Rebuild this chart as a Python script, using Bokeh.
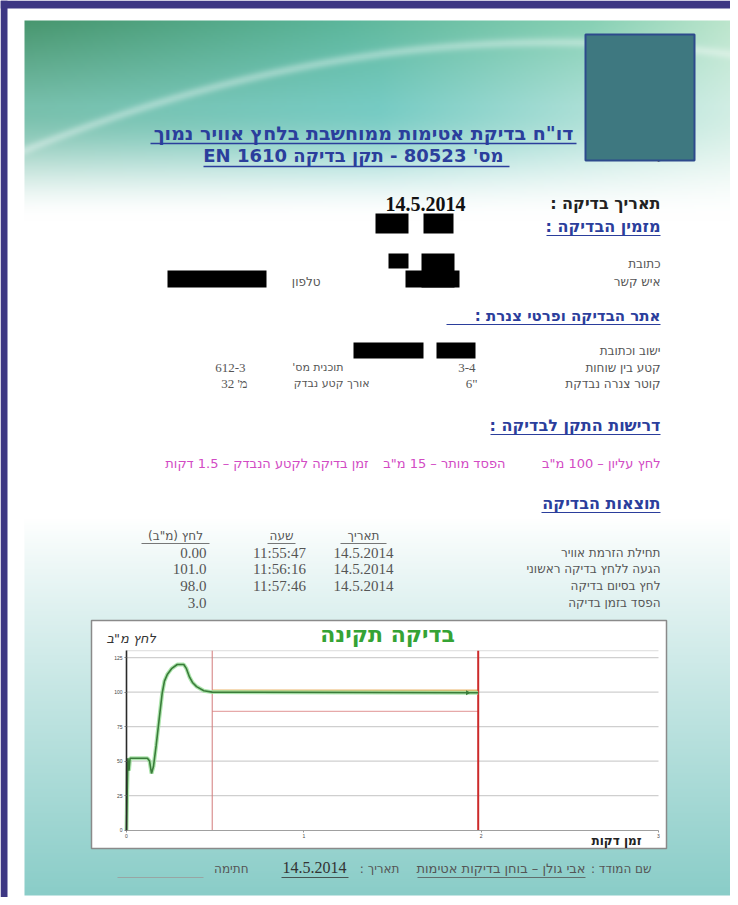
import numpy as np
from bokeh.plotting import figure
from bokeh.models import Range1d, LinearAxis, FixedTicker
from bokeh.core.properties import value
from bokeh.embed import file_html
from bokeh.resources import INLINE

# ---------------- data ----------------
TITLE_LINE1 = 'דו"ח בדיקת אטימות ממוחשבת בלחץ אוויר נמוך'
REPORT_NO = "80523"
STANDARD = "EN 1610"
TEST_DATE = "14.5.2014"
CERT_TEXT = "מס' תעודה : 80523"

CLIENT_LABELS = ["כתובת", "איש קשר"]
PHONE_LABEL = "טלפון"
PIPE_LABELS = ["ישוב וכתובת", "קטע בין שוחות", "קוטר צנרה נבדקת"]
PIPE_SEGMENT = "3-4"
PIPE_DIAMETER = '6"'
PLAN_LABEL = "תוכנית מס'"
PLAN_NO = "612-3"
LENGTH_LABEL = "אורך קטע נבדק"
SEGMENT_LENGTH_M = 32

MAX_PRESSURE_MBAR = 100
ALLOWED_LOSS_MBAR = 15
TEST_DURATION_MIN = 1.5

TABLE_HEADERS = ["תאריך", "שעה", 'לחץ (מ"ב)']
EVENT_NAMES = ["תחילת הזרמת אוויר", "הגעה ללחץ בדיקה ראשוני", "לחץ בסיום בדיקה", "הפסד בזמן בדיקה"]
EVENT_DATES = ["14.5.2014", "14.5.2014", "14.5.2014"]
EVENT_TIMES = ["11:55:47", "11:56:16", "11:57:46"]
EVENT_PRESSURES = ["0.00", "101.0", "98.0", "3.0"]

# pressure curve (minutes since air start, mbar)
CURVE_MIN = [0.000, 0.004, 0.008, 0.014, 0.020, 0.028, 0.118, 0.130, 0.141, 0.152,
             0.167, 0.183, 0.201, 0.214, 0.231, 0.254, 0.286, 0.323, 0.338, 0.355,
             0.372, 0.395, 0.436, 0.483, 1.983]
CURVE_MBAR = [0, 29, 52, 43, 52, 52, 52, 50, 41, 46,
              61, 79, 99, 108, 113, 117, 120, 120, 117, 111,
              107, 104, 101, 100, 99.5]
Y_TICKS = [0, 25, 50, 75, 100, 125]
X_TICKS = [0, 1, 2, 3]
Y_TOP = 130
CHART_TITLE = "בדיקה תקינה"
Y_TITLE = 'לחץ מ"ב'
X_TITLE = "זמן דקות"

SURVEYOR_LABEL = "שם המודד :"
SURVEYOR = "אבי גולן – בוחן בדיקות אטימות"
DATE_LABEL = "תאריך :"
SIGN_LABEL = "חתימה"

# ---------------- derived ----------------
def secs(s):
    h, m, x = map(int, s.split(":"))
    return h * 3600 + m * 60 + x

t_start = (secs(EVENT_TIMES[1]) - secs(EVENT_TIMES[0])) / 60.0
t_end = (secs(EVENT_TIMES[2]) - secs(EVENT_TIMES[0])) / 60.0
p_test = float(EVENT_PRESSURES[1])
p_limit = p_test - ALLOWED_LOSS_MBAR

# ---------------- layout ----------------
FIG_W, FIG_H = 730, 897
def Y(yi):
    return FIG_H - yi

T0_X, PX_MIN = 126.0, 177.33
P0_Y, PX_MBAR = 829.5, 1.379

p = figure(width=FIG_W, height=FIG_H, output_backend="svg", toolbar_location=None,
           x_range=Range1d(0, FIG_W), y_range=Range1d(0, FIG_H),
           x_axis_type=None, y_axis_type=None, min_border=0,
           background_fill_color="white", border_fill_color="white", outline_line_color=None)
p.extra_x_ranges = {"t": Range1d((0 - T0_X) / PX_MIN, (FIG_W - T0_X) / PX_MIN)}
p.extra_y_ranges = {"p": Range1d((P0_Y - FIG_H) / PX_MBAR, P0_Y / PX_MBAR)}

# purple frame strips (left and top)
PURPLE = "#3d3783"
p.quad(left=[0, 0], right=[7, FIG_W], top=[Y(0), Y(0)], bottom=[Y(FIG_H), Y(8)],
       fill_color=PURPLE, line_color=None)

# ---- page background gradient ----
GX0, GX1, GY0, GY1 = 24, 733, 20, 895
nw, nh = 355, 438
xs = GX0 + (np.arange(nw) + 0.5) * (GX1 - GX0) / nw
ys = GY1 - (np.arange(nh) + 0.5) * (GY1 - GY0) / nh
XX, YY = np.meshgrid(xs, ys)
uu = (XX - GX0) / (GX1 - GX0)

def stops(u, pos, cols):
    cols = np.array(cols, dtype=float)
    return np.stack([np.interp(u, pos, cols[:, k]) for k in range(3)], axis=-1)

ctop = stops(uu, [0, .45, .8, 1], [(72, 150, 110), (92, 182, 155), (135, 208, 180), (190, 230, 205)])
cmid = stops(uu, [0, .5, 1], [(120, 192, 172), (118, 203, 195), (210, 238, 228)])
white = np.full_like(ctop, 255.0)
s1 = np.clip((YY - 20) / 85.0, 0, 1)[..., None]
col = ctop * (1 - s1) + cmid * s1
s2 = np.clip((YY - 105) / 115.0, 0, 1)
s2 = (s2 * s2 * (3 - 2 * s2))[..., None]
col = col * (1 - s2) + white * s2
a_, b_, c_ = 3.838e-4, -0.42578, 160.0
arc = a_ * XX ** 2 + b_ * XX + c_
band = (0.33 * np.exp(-((YY - arc) / 5.0) ** 2) * (YY < 220))[..., None]
col = col + (255 - col) * band
sb = (np.clip((YY - 520) / 375.0, 0, 1) ** 0.9)[..., None]
col = col * (1 - sb) + np.array([138, 205, 200], dtype=float) * sb
img = np.empty((nh, nw), dtype=np.uint32)
view = img.view(dtype=np.uint8).reshape((nh, nw, 4))
view[..., :3] = np.clip(col, 0, 255).astype(np.uint8)
view[..., 3] = 255
p.image_rgba(image=[img], x=GX0, y=Y(GY1), dw=GX1 - GX0, dh=GY1 - GY0)

# ---- helpers ----
BLUE = "#2b3e9c"
GRAY = "#555555"
HEB = "DejaVu Sans"
NUM = "Liberation Serif"

def rtl(s):
    if any("\u0590" <= ch <= "\u05ff" for ch in s):
        return "\u202b" + s + "\u202c"
    return s

def txt(x, y, s, size=12, color=GRAY, align="right", style="normal", font=HEB):
    p.text(x=[x], y=[Y(y)], text=[rtl(s)], text_font=value(font), text_font_size=f"{size}px",
           text_color=color, text_align=align, text_baseline="middle", text_font_style=style)

def ul(x0, x1, y, color=BLUE, w=1.0):
    p.segment(x0=[x0], x1=[x1], y0=[Y(y)], y1=[Y(y)], line_color=color, line_width=w)

# ---- header ----
txt(363, 132, TITLE_LINE1, 19, BLUE, "center", "bold")
ul(150, 576, 143, BLUE, 1.3)
txt(356, 155, f"מס' {REPORT_NO}  - תקן בדיקה {STANDARD}", 18, BLUE, "center", "bold")
ul(203, 509, 166, BLUE, 1.3)
txt(692, 157, CERT_TEXT, 11, "#444")
p.quad(left=[585], right=[694], top=[Y(34)], bottom=[Y(160)], fill_color="#3e7880",
       line_color="#2d4a8c", line_width=2)

txt(660, 203, "תאריך בדיקה :", 16, "#222", "right", "bold")
txt(425, 203, TEST_DATE, 20, "#111", "center", "bold", NUM)
txt(660, 226, "מזמין הבדיקה :", 16, BLUE, "right", "bold")
ul(546, 660, 235)
txt(660, 263, CLIENT_LABELS[0], 12)
txt(660, 281, CLIENT_LABELS[1], 12)
txt(320, 281, PHONE_LABEL, 12)

RED_L = [375, 423, 388, 421, 405, 167, 353, 436]
RED_R = [408, 453, 408, 454, 459, 266, 423, 475]
RED_T = [213, 213, 253, 253, 270, 270, 342, 342]
RED_B = [233, 233, 268, 287, 287, 287, 358, 358]
p.quad(left=RED_L, right=RED_R, top=[Y(v) for v in RED_T], bottom=[Y(v) for v in RED_B],
       fill_color="black", line_color=None)

txt(660, 315, "אתר הבדיקה ופרטי צנרת :", 15, BLUE, "right", "bold")
ul(446, 660, 324)
for yy, lab in zip([350, 367, 383], PIPE_LABELS):
    txt(660, yy, lab, 12)
txt(475, 367, PIPE_SEGMENT, 13, GRAY, "right", "normal", NUM)
txt(477, 383, PIPE_DIAMETER, 13, GRAY, "right", "normal", NUM)
txt(343, 367, PLAN_LABEL, 11)
txt(369, 383, LENGTH_LABEL, 11)
txt(245, 367, PLAN_NO, 13, GRAY, "right", "normal", NUM)
txt(247, 383, f"מ' {SEGMENT_LENGTH_M}", 13, GRAY, "right", "normal", NUM)

txt(660, 425, "דרישות התקן לבדיקה :", 16, BLUE, "right", "bold")
ul(490, 660, 434)
PINK = "#d24bc4"
txt(660, 463, f'לחץ עליון – {MAX_PRESSURE_MBAR} מ"ב', 13, PINK)
txt(505, 463, f'הפסד מותר – {ALLOWED_LOSS_MBAR} מ"ב', 13, PINK)
txt(368, 463, f"זמן בדיקה לקטע הנבדק – {TEST_DURATION_MIN} דקות", 13, PINK)

txt(660, 503, "תוצאות הבדיקה", 16, BLUE, "right", "bold")
ul(541, 660, 512)
for cx, h, a0, a1 in zip([363, 281, 175], TABLE_HEADERS, [340, 267, 141], [386, 295, 209]):
    txt(cx, 535, h, 12, GRAY, "center")
    ul(a0, a1, 543, GRAY, 0.8)
ROW_Y = [552, 568, 585, 602]
for yy, name in zip(ROW_Y, EVENT_NAMES):
    txt(660, yy, name, 12)
for yy, d in zip(ROW_Y, EVENT_DATES):
    txt(363, yy, d, 15, GRAY, "center", "normal", NUM)
for yy, t in zip(ROW_Y, EVENT_TIMES):
    txt(279, yy, t, 15, GRAY, "center", "normal", NUM)
for yy, pr in zip(ROW_Y, EVENT_PRESSURES):
    txt(206, yy, pr, 15, GRAY, "right", "normal", NUM)

# ---- chart box ----
p.quad(left=[91], right=[666], top=[Y(620)], bottom=[Y(848)], fill_color="white",
       line_color="#8a8a8a", line_width=1.5)
txt(387, 634, CHART_TITLE, 22, "#35a335", "center", "bold")
txt(106, 638, Y_TITLE, 13, "#333", "left", "italic")
txt(641, 840, X_TITLE, 12, "#222", "right", "bold")

RN = dict(x_range_name="t", y_range_name="p")
grid_y = Y_TICKS[1:]
p.segment(x0=[X_TICKS[0]] * len(grid_y), x1=[X_TICKS[-1]] * len(grid_y), y0=grid_y, y1=grid_y,
          line_color="#cfcfcf", line_width=1.2, **RN)
p.segment(x0=[X_TICKS[0]], x1=[X_TICKS[-1]], y0=[Y_TOP], y1=[Y_TOP], line_color="#dcdcdc", line_width=1, **RN)
# test window
p.segment(x0=[t_start], x1=[t_end], y0=[p_test], y1=[p_test], line_color="#ebb56c", line_width=2.5, **RN)
p.segment(x0=[t_start], x1=[t_end], y0=[p_limit], y1=[p_limit], line_color="#e6a9a9", line_width=1.2, **RN)
p.segment(x0=[t_start], x1=[t_start], y0=[0], y1=[Y_TOP], line_color="#d27a7a", line_width=1, **RN)
p.segment(x0=[t_end], x1=[t_end], y0=[0], y1=[Y_TOP], line_color="#cc2a2a", line_width=2, **RN)
# curve
p.line(CURVE_MIN, CURVE_MBAR, line_color="#9fe09f", line_width=4, line_alpha=0.85, **RN)
p.line(CURVE_MIN, CURVE_MBAR, line_color="#3a7c3a", line_width=1.6, **RN)
p.scatter([CURVE_MIN[-1] - 0.06], [CURVE_MBAR[-1]], marker="triangle", angle=-np.pi / 2, size=5,
          fill_color="#3a7c3a", line_color=None, **RN)

yaxis = LinearAxis(fixed_location=0, bounds=(0, Y_TOP), ticker=FixedTicker(ticks=Y_TICKS), **RN)
yaxis.axis_line_color = "#2a2a2a"
yaxis.axis_line_width = 1.6
yaxis.major_tick_line_color = "#777"
yaxis.major_tick_out = 2
yaxis.major_tick_in = 0
yaxis.minor_tick_line_color = None
yaxis.major_label_text_font_size = "5px"
yaxis.major_label_text_color = "#444"
yaxis.major_label_standoff = 2
p.add_layout(yaxis, "left")

xaxis = LinearAxis(fixed_location=0, bounds=(X_TICKS[0], X_TICKS[-1]), ticker=FixedTicker(ticks=X_TICKS), **RN)
xaxis.axis_line_color = "#a0a0a0"
xaxis.axis_line_width = 1.2
xaxis.major_tick_line_color = "#999"
xaxis.major_tick_out = 2
xaxis.major_tick_in = 0
xaxis.minor_tick_line_color = None
xaxis.major_label_text_font_size = "5px"
xaxis.major_label_text_color = "#444"
xaxis.major_label_standoff = 2
p.add_layout(xaxis, "below")

# ---- footer ----
txt(651, 868, SURVEYOR_LABEL, 12)
txt(585, 868, SURVEYOR, 13)
ul(417, 585, 877, GRAY, 0.8)
txt(399, 868, DATE_LABEL, 12)
txt(314, 867, TEST_DATE, 16, "#333", "center", "normal", NUM)
ul(281, 348, 877, "#333", 0.8)
txt(248, 868, SIGN_LABEL, 12)
ul(117, 203, 877, "#9a9a9a", 0.8)

open("out.html", "w").write(file_html(p, INLINE))
